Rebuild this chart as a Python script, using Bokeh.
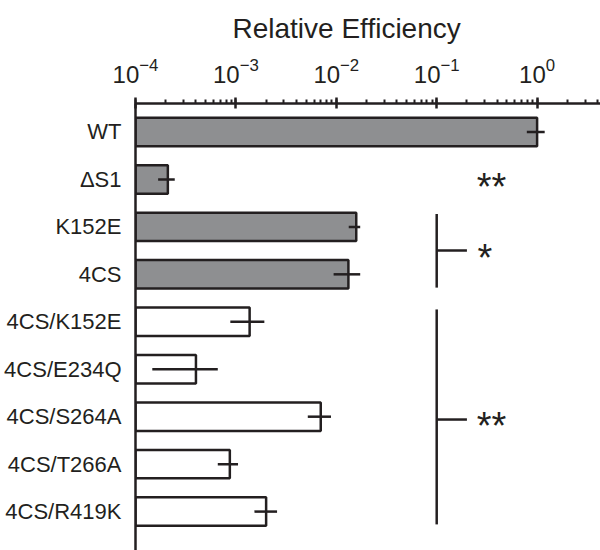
from bokeh.plotting import figure
from bokeh.models import Range1d, FixedTicker, LogTicker, Title
from bokeh.core.properties import value
from bokeh.embed import file_html
from bokeh.resources import INLINE

# ---- data ----
categories = ["WT", "ΔS1", "K152E", "4CS", "4CS/K152E", "4CS/E234Q",
              "4CS/S264A", "4CS/T266A", "4CS/R419K"]
efficiency = [1.0, 2.1e-4, 0.0158, 0.0132, 1.37e-3, 4.0e-4, 7.0e-3, 8.7e-4, 2.0e-3]
err_low = [0.79, 1.68e-4, 0.0133, 0.0094, 8.8e-4, 1.47e-4, 5.2e-3, 6.6e-4, 1.53e-3]
err_high = [1.19, 2.46e-4, 0.0173, 0.0173, 1.92e-3, 6.6e-4, 8.85e-3, 1.05e-3, 2.57e-3]
group = ["gray", "gray", "gray", "gray", "white", "white", "white", "white", "white"]
axis_title = "Relative Efficiency"

INK = "#231f20"
GRAY = "#8e8f91"
FONT = "Liberation Sans"

x_start, x_end = 1e-4, 4.28
positions = list(range(len(categories)))
fills = [GRAY if g == "gray" else "white" for g in group]

p = figure(width=600, height=550, x_axis_type="log", x_axis_location="above",
           x_range=Range1d(x_start, x_end), y_range=Range1d(8.82, -0.6),
           output_backend="svg", toolbar_location=None,
           min_border_left=135, min_border_top=98, min_border_right=0, min_border_bottom=0)
p.outline_line_color = None
p.xgrid.visible = False
p.ygrid.visible = False

# bars
p.hbar(y=positions, left=x_start, right=efficiency, height=0.6,
       fill_color=fills, line_color=INK, line_width=2.5)
# error bars
p.segment(x0=err_low, y0=positions, x1=err_high, y1=positions,
          line_color=INK, line_width=2.5)

# significance brackets
p.segment(x0=[0.1, 0.1, 0.1, 0.1], y0=[1.73, 2.5, 3.74, 6.06],
          x1=[0.1, 0.2, 0.1, 0.2], y1=[3.28, 2.5, 8.27, 6.06],
          line_color=INK, line_width=2.5)
p.text(x=[0.25, 0.255, 0.25], y=[1.06, 2.54, 6.09], text=["**", "*", "**"],
       text_font=value(FONT), text_font_size="38px", text_color=INK,
       text_align="left", text_baseline="middle", y_offset=5)

# top log axis
xa = p.xaxis[0]
xa.ticker = LogTicker(mantissas=[1], num_minor_ticks=10)
xa.major_label_text_font = FONT
xa.major_label_text_font_size = "24px"
xa.major_label_text_color = INK
xa.major_label_standoff = 15
xa.axis_line_width = 2.5
xa.axis_line_color = INK
xa.major_tick_line_width = 2.5
xa.major_tick_line_color = INK
xa.major_tick_out = 6
xa.major_tick_in = 5
xa.minor_tick_line_width = 2
xa.minor_tick_line_color = INK
xa.minor_tick_out = 4
xa.minor_tick_in = 0

# left category axis
ya = p.yaxis[0]
ya.ticker = FixedTicker(ticks=positions)
ya.major_label_overrides = {i: c for i, c in zip(positions, categories)}
ya.major_label_text_font = FONT
ya.major_label_text_font_size = "22px"
ya.major_label_text_color = INK
ya.major_label_standoff = 14
ya.axis_line_width = 2.5
ya.axis_line_color = INK
ya.major_tick_line_color = None
ya.minor_tick_line_color = None
ya.major_tick_out = 0
ya.major_tick_in = 0

p.add_layout(Title(text=axis_title, align="left", offset=97, standoff=21,
                   text_line_height=0.8,
                   text_font=FONT, text_font_size="28px", text_font_style="normal",
                   text_color=INK), "above")

open("out.html", "w").write(file_html(p, INLINE))
